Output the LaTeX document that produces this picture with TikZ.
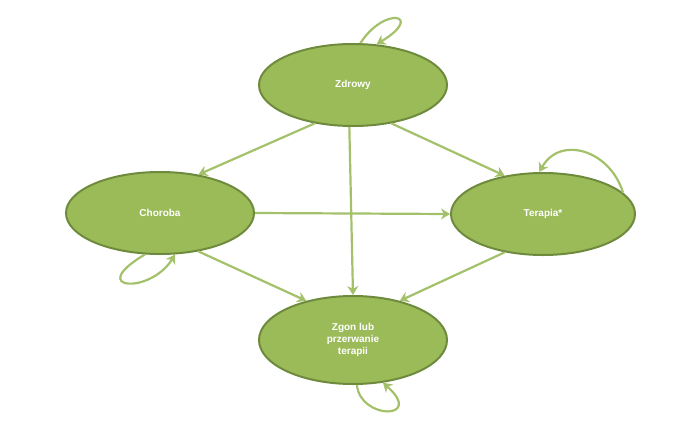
\documentclass[tikz,border=0pt]{standalone}
\usepackage{fontspec}
\setmainfont{Liberation Sans}
\usetikzlibrary{shapes.geometric,arrows.meta}
\definecolor{olivefill}{HTML}{9BBB59}
\definecolor{oliveline}{HTML}{6E8B3D}
\definecolor{arrowgreen}{HTML}{A3C16A}
\tikzset{
  state/.style={ellipse,draw=oliveline,line width=2pt,fill=olivefill,
    minimum width=188pt,minimum height=82pt,text=white,
    font=\bfseries\fontsize{10}{12}\selectfont,align=center},
  flow/.style={draw=arrowgreen,line width=2.2pt,-{Stealth[length=9pt,width=11pt]}}
}
\begin{document}
\begin{tikzpicture}[x=1pt,y=-1pt]
  \useasboundingbox (0,0) rectangle (690,426);

  % states
  \node[state] (zdrowy) at (353,85) {Zdrowy};
  \node[state] (choroba) at (160,213) {Choroba};
  \node[state,minimum width=184pt] (terapia) at (543,214) {Terapia*};
  \node[state,minimum height=88pt] (zgon) at (353,340) {Zgon lub\\przerwanie\\terapii};

  % transitions
  \draw[flow] (zdrowy.225) -- (choroba.45);
  \draw[flow] (zdrowy.315) -- (terapia.135);
  \draw[flow] (zdrowy.265) -- (zgon.90);
  \draw[flow] (choroba.east) -- (terapia.west);
  \draw[flow] (choroba.315) -- (zgon.140);
  \draw[flow] (terapia.225) -- (zgon.40);

  % self loops
  \draw[flow] (zdrowy.80) .. controls (385,5) and (425,15) .. (zdrowy.60);
  \draw[flow] (terapia.15) .. controls (610,150) and (560,135) .. (terapia.95);
  \draw[flow] (choroba.250) .. controls (85,290) and (150,295) .. (choroba.290);
  \draw[flow] (zgon.275) .. controls (360,420) and (425,420) .. (zgon.305);
\end{tikzpicture}
\end{document}
